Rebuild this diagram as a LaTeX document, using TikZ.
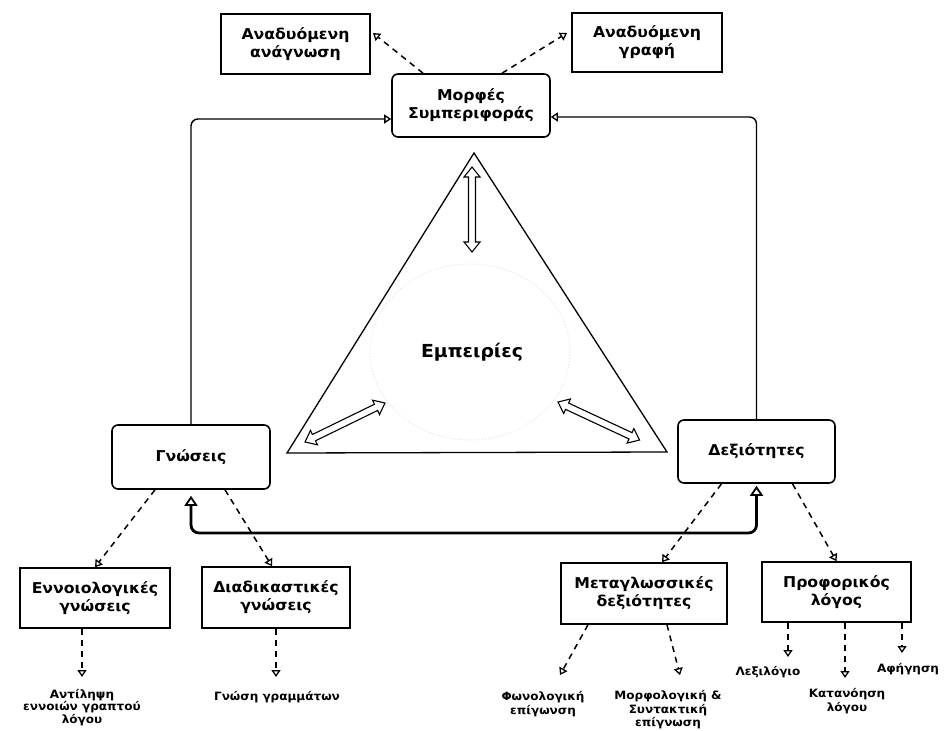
\documentclass[tikz,border=0pt]{standalone}
\usepackage{fontspec}
\setmainfont{DejaVu Sans}[FakeStretch=1.05]
\usetikzlibrary{arrows.meta,calc}
\tikzset{
  box/.style={draw, line width=1.6bp, align=center, inner sep=0pt,
    font=\fontsize{15}{18}\selectfont\bfseries},
  rbox/.style={box, rounded corners=6bp},
  lbl/.style={align=center, inner sep=0pt, font=\fontsize{11.5}{13.5}\selectfont\bfseries},
  dsh/.style={dash pattern=on 6bp off 5bp, line width=1.5bp,
    -{Triangle[open,length=7bp,width=9bp,line width=1.3bp]}},
  solidarr/.style={line width=1.4bp, rounded corners=7bp,
    -{Triangle[open,length=7bp,width=9bp,line width=1.3bp]}},
  thickarr/.style={line width=2.8bp, rounded corners=8bp,
    {Triangle[open,length=10bp,width=13bp,line width=1.8bp]}-{Triangle[open,length=10bp,width=13bp,line width=1.8bp]}},
  pics/dblarr/.style={code={
    \draw[line width=1.1bp, fill=white, line join=miter]
      (0,0) -- (10,-8) -- (10,-3.5) -- (#1-10,-3.5) -- (#1-10,-8) -- (#1,0)
      -- (#1-10,8) -- (#1-10,3.5) -- (10,3.5) -- (10,8) -- cycle;}}
}
\begin{document}
\begin{tikzpicture}[x=1bp,y=-1bp]
\useasboundingbox (0,0) rectangle (946,731);

% triangle
\coordinate (tA) at (474,153);
\coordinate (tL) at (287,453);
\coordinate (tR) at (667,452);
\draw[gray!22, dotted, line width=1bp] (470,352) ellipse [x radius=100, y radius=88];
\draw[line width=1.3bp] (tA) -- (tL) -- (tR) -- cycle;
\node[font=\fontsize{18}{20}\selectfont\bfseries, inner sep=0pt] (emp) at (472,352) {Εμπειρίες};
\pic[rotate=-90] at (472,167) {dblarr=85};
\pic[rotate=26] at (305,442) {dblarr=89};
\pic[rotate=-25] at (558,402) {dblarr=90};

% boxes
\node[box, minimum width=149bp, minimum height=60bp] (anag) at (295.5,44) {Αναδυόμενη\\ανάγνωση};
\node[box, minimum width=150bp, minimum height=59bp] (graf) at (647,42.5) {Αναδυόμενη\\γραφή};
\node[rbox, minimum width=158bp, minimum height=63bp] (morf) at (471,105.5) {Μορφές\\Συμπεριφοράς};
\node[rbox, minimum width=158bp, minimum height=64bp] (gnos) at (191,457) {Γνώσεις};
\node[rbox, minimum width=157bp, minimum height=63bp] (dex) at (756.5,451.5) {Δεξιότητες};
\node[box, minimum width=150bp, minimum height=60bp] (enn) at (95,598) {Εννοιολογικές\\γνώσεις};
\node[box, minimum width=148bp, minimum height=61bp] (diad) at (276,597.5) {Διαδικαστικές\\γνώσεις};
\node[box, minimum width=166bp, minimum height=61bp] (meta) at (644,593.5) {Μεταγλωσσικές\\δεξιότητες};
\node[box, minimum width=149bp, minimum height=60bp] (prof) at (836.5,592) {Προφορικός\\λόγος};

% labels
\node[lbl, anchor=north, font=\fontsize{11.5}{12.5}\selectfont\bfseries] (ant) at (82,689) {Αντίληψη\\εννοιών γραπτού\\λόγου};
\node[lbl] (gram) at (277,697) {Γνώση γραμμάτων};
\node[lbl] (fon) at (543,704) {Φωνολογική\\επίγωνση};
\node[lbl] (mor) at (668,710) {Μορφολογική \&\\Συντακτική\\επίγνωση};
\node[lbl] (lex) at (768,672) {Λεξιλόγιο};
\node[lbl] (kat) at (847,701) {Κατανόηση\\λόγου};
\node[lbl] (afi) at (908,669) {Αφήγηση};

% arrow tip coordinates
\coordinate (tAnag) at (373,33);
\coordinate (tGraf) at (567,33);
\coordinate (tAnt) at (82,677);
\coordinate (tGram) at (276,677);
\coordinate (tFon) at (560,675);
\coordinate (tMor) at (680,675);
\coordinate (tLex) at (788,657);
\coordinate (tKat) at (845,678);
\coordinate (tAfi) at (902,653);
\coordinate (cBot) at (470,533);

% top dashed
\draw[dsh] ($(morf.north)+(-48,0)$) -- (tAnag);
\draw[dsh] ($(morf.north)+(31,0)$) -- (tGraf);

% loop to Μορφές
\draw[solidarr] (gnos.north) |- ($(morf.west)+(0,13.5)$);
\draw[solidarr] (dex.north) |- ($(morf.east)+(0,11.5)$);

% thick two-way
\draw[thickarr] ($(gnos.south)+(0,6)$) |- (cBot) -| ($(dex.south)+(0,2)$);

% second level dashed
\draw[dsh] ($(gnos.south)+(-36,0)$) -- (enn.north);
\draw[dsh] ($(gnos.south)+(34,0)$) -- ($(diad.north)+(-4,0)$);
\draw[dsh] ($(dex.south)+(-35,0)$) -- ($(meta.north)+(18,0)$);
\draw[dsh] ($(dex.south)+(36,0)$) -- (prof.north);

% third level dashed
\draw[dsh] (enn.south -| tAnt) -- (tAnt);
\draw[dsh] (diad.south -| tGram) -- (tGram);
\draw[dsh] ($(meta.south)+(-56,0)$) -- (tFon);
\draw[dsh] ($(meta.south)+(23,0)$) -- (tMor);
\draw[dsh] (prof.south -| tLex) -- (tLex);
\draw[dsh] (prof.south -| tKat) -- (tKat);
\draw[dsh] (prof.south -| tAfi) -- (tAfi);
\end{tikzpicture}
\end{document}
